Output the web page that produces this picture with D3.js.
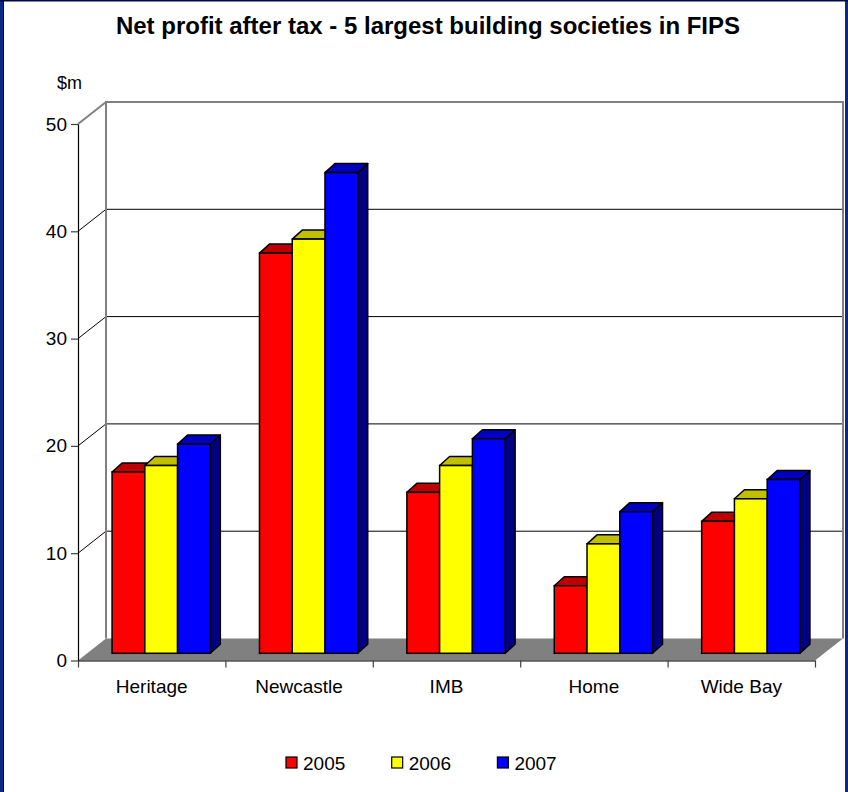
<!DOCTYPE html>
<html>
<head>
<meta charset="utf-8">
<script src="https://cdn.jsdelivr.net/npm/d3@7/dist/d3.min.js"></script>
<style>
  html, body { margin: 0; padding: 0; background: #fff; }
  svg { display: block; }
  text { font-family: Arial, "Liberation Sans", sans-serif; fill: #000; }
</style>
</head>
<body>
<script>
// ---------------- DATA ----------------
const categories = ["Heritage", "Newcastle", "IMB", "Home", "Wide Bay"];
const seriesNames = ["2005", "2006", "2007"];
const values2005 = [16.9, 37.3, 15.0, 6.3, 12.3];
const values2006 = [17.5, 38.6, 17.5, 10.2, 14.4];
const values2007 = [19.5, 44.8, 20.0, 13.2, 16.2];
const yTickValues = [0, 10, 20, 30, 40, 50];
const titleText = "Net profit after tax - 5 largest building societies in FIPS";
const unitText = "$m";

// ---------------- STYLE / LAYOUT ----------------
const W = 848, H = 792;
const frontColors = ["#FF0000", "#FFFF00", "#0000FF"];
const topColors   = ["#C00000", "#C0C000", "#0000C0"];
const sideColors  = ["#800000", "#808000", "#000080"];

const plot = { left: 78, right: 815, top: 124, bottom: 660.5 };
const wallDX = 28, wallDY = 22;      // depth of the 3D box
const barOX = 9.5, barOY = 7.2;      // bar front face offset into depth
const barDX = 10, barDY = 9;         // bar depth

const series = [values2005, values2006, values2007];

const svg = d3.select("body").append("svg")
  .attr("width", W).attr("height", H);

// outer frame
svg.append("rect").attr("x", 0).attr("y", 0).attr("width", W).attr("height", H).attr("fill", "#fff");
svg.append("rect").attr("x", 0).attr("y", 0).attr("width", 4).attr("height", H).attr("fill", "#0b2a86");
svg.append("line").attr("x1", 3.5).attr("x2", 3.5).attr("y1", 0).attr("y2", H).attr("stroke", "#000a40").attr("stroke-width", 1);
svg.append("rect").attr("x", W - 3).attr("y", 0).attr("width", 3).attr("height", H).attr("fill", "#0b2a86");
svg.append("rect").attr("x", 0).attr("y", 0).attr("width", W).attr("height", 1.5).attr("fill", "#000a40");

// scales
const x = d3.scaleBand().domain(categories).range([plot.left, plot.right]).paddingInner(0).paddingOuter(0);
const xs = d3.scaleBand().domain(seriesNames)
  .range([x.bandwidth() / 6, x.bandwidth() * 5 / 6]).paddingInner(0).paddingOuter(0);
const y = d3.scaleLinear().domain([0, 50]).range([plot.bottom, plot.top]);

const g = svg.append("g");

// back wall
const bx0 = plot.left + wallDX, bx1 = plot.right + wallDX;
const by0 = plot.top - wallDY, by1 = plot.bottom - wallDY;

// gridlines on back wall and diagonals on side wall
yTickValues.filter(v => v > 0 && v < 50).forEach(v => {
  g.append("line").attr("x1", bx0).attr("x2", bx1)
    .attr("y1", y(v) - wallDY).attr("y2", y(v) - wallDY)
    .attr("stroke", "#000").attr("stroke-width", 1);
  g.append("line").attr("x1", plot.left).attr("x2", bx0)
    .attr("y1", y(v)).attr("y2", y(v) - wallDY)
    .attr("stroke", "#000").attr("stroke-width", 1);
});

// wall border (gray)
g.append("path")
  .attr("d", `M${bx0},${by1}L${bx0},${by0}L${bx1},${by0}L${bx1},${by1}`)
  .attr("fill", "none").attr("stroke", "#808080").attr("stroke-width", 2);
g.append("line").attr("x1", plot.left).attr("y1", y(50)).attr("x2", bx0).attr("y2", by0)
  .attr("stroke", "#808080").attr("stroke-width", 2);

// floor
g.append("path")
  .attr("d", `M${plot.left},${plot.bottom}L${plot.right},${plot.bottom}L${bx1},${by1}L${bx0},${by1}Z`)
  .attr("fill", "#808080").attr("stroke", "none");

// y axis
const yAxis = d3.axisLeft(y).tickValues(yTickValues).tickSize(7).tickSizeOuter(0).tickPadding(4);
const yg = svg.append("g").attr("transform", `translate(${plot.left},0)`).call(yAxis);
yg.select(".domain").attr("stroke", "#000").attr("stroke-width", 1.2);
yg.selectAll(".tick line").attr("stroke", "#404040").attr("stroke-width", 1.2);
yg.selectAll(".tick text").attr("font-size", 19).attr("font-family", "Arial, 'Liberation Sans', sans-serif").attr("fill", "#000");

// x axis (category boundaries)
const xBound = d3.scaleLinear().domain([0, categories.length]).range([plot.left, plot.right]);
const xAxis = d3.axisBottom(xBound).ticks(categories.length).tickSize(7).tickSizeOuter(0).tickFormat("");
const xg = svg.append("g").attr("transform", `translate(0,${plot.bottom})`).call(xAxis);
xg.select(".domain").attr("stroke", "#000").attr("stroke-width", 1.2);
xg.selectAll(".tick line").attr("stroke", "#404040").attr("stroke-width", 1.2);

// category labels
svg.append("g").selectAll("text").data(categories).join("text")
  .attr("x", d => x(d) + x.bandwidth() / 2)
  .attr("y", 693)
  .attr("text-anchor", "middle")
  .attr("font-size", 19)
  .text(d => d);

// bars
const bars = svg.append("g");
categories.forEach((cat, ci) => {
  seriesNames.forEach((s, si) => {
    const v = series[si][ci];
    const x0 = x(cat) + xs(s) + barOX;
    const x1 = x0 + xs.bandwidth();
    const yb = y(0) - barOY;
    const yt = y(v) - barOY;
    const bg = bars.append("g");
    // side
    bg.append("path")
      .attr("d", `M${x1},${yt}L${x1 + barDX},${yt - barDY}L${x1 + barDX},${yb - barDY}L${x1},${yb}Z`)
      .attr("fill", sideColors[si]).attr("stroke", "#000").attr("stroke-width", 1.5).attr("stroke-linejoin", "round");
    // top
    bg.append("path")
      .attr("d", `M${x0},${yt}L${x0 + barDX},${yt - barDY}L${x1 + barDX},${yt - barDY}L${x1},${yt}Z`)
      .attr("fill", topColors[si]).attr("stroke", "#000").attr("stroke-width", 1.5).attr("stroke-linejoin", "round");
    // front
    bg.append("rect")
      .attr("x", x0).attr("y", yt).attr("width", xs.bandwidth()).attr("height", yb - yt)
      .attr("fill", frontColors[si]).attr("stroke", "#000").attr("stroke-width", 1.5);
  });
});

// title
svg.append("text").attr("x", 428).attr("y", 34).attr("text-anchor", "middle")
  .attr("font-size", 24).attr("font-weight", "bold").text(titleText);

// unit
svg.append("text").attr("x", 57).attr("y", 89).attr("font-size", 18).text(unitText);

// legend
const legendX = d3.scaleLinear().domain([0, 1]).range([286, 391.7]);
const lg = svg.append("g").selectAll("g").data(seriesNames).join("g")
  .attr("transform", (d, i) => `translate(${legendX(i)},757)`);
lg.append("rect").attr("width", 11).attr("height", 11)
  .attr("fill", (d, i) => frontColors[i]).attr("stroke", "#000").attr("stroke-width", 1.2);
lg.append("text").attr("x", 17).attr("y", 12.5).attr("font-size", 19).text(d => d);
</script>
</body>
</html>
